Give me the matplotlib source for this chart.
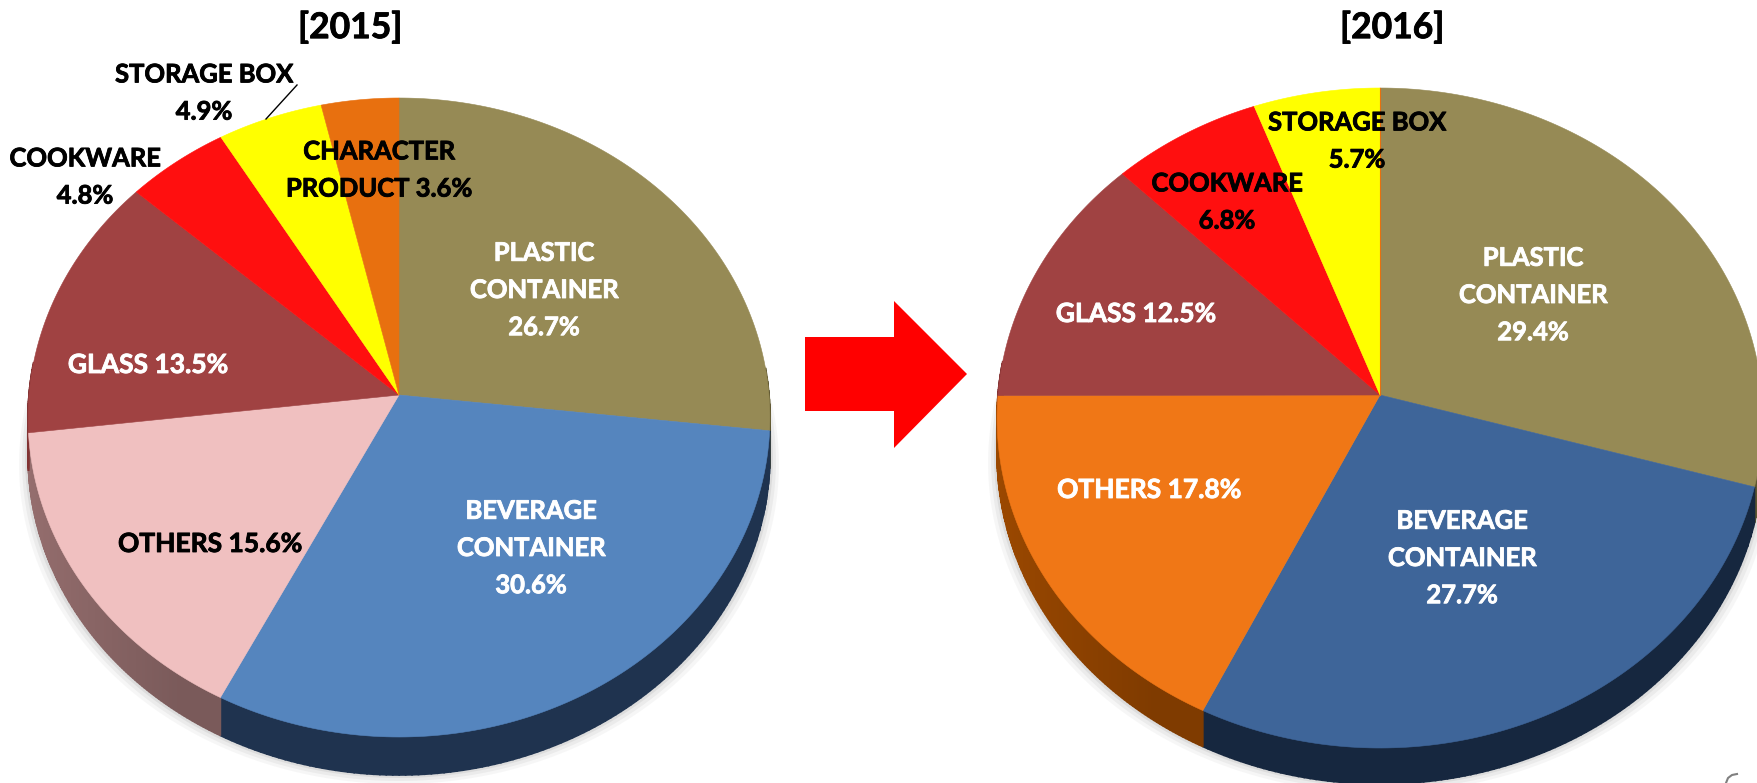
import numpy as np
import matplotlib
matplotlib.use('Agg')
import matplotlib.pyplot as plt
import matplotlib.patheffects as pe
from matplotlib.colors import to_rgb

plt.rcParams['font.family'] = ['Lato', 'DejaVu Sans']

years = ['[2015]', '[2016]']

names_2015 = ['PLASTIC CONTAINER', 'BEVERAGE CONTAINER', 'OTHERS', 'GLASS',
              'COOKWARE', 'STORAGE BOX', 'CHARACTER PRODUCT']
share_2015 = [26.7, 30.6, 15.6, 13.5, 4.8, 4.9, 3.6]
colors_2015 = ['#968A55', '#5585BE', '#F0C0C0', '#A04242', '#FF0F0F', '#FFFF00', '#E8700F']
sides_2015 = ['#5E5630', '#1F334F', '#7A5A5A', '#6A2A2A', '#A00000', '#A0A000', '#8A4000']

names_2016 = ['PLASTIC CONTAINER', 'BEVERAGE CONTAINER', 'OTHERS', 'GLASS',
              'COOKWARE', 'STORAGE BOX']
share_2016 = [29.4, 27.7, 17.8, 12.5, 6.8, 5.7]
colors_2016 = ['#968A55', '#3E6599', '#F07716', '#A04242', '#FF0F0F', '#FFFF00']
sides_2016 = ['#5E5630', '#16273F', '#7F3B00', '#6A2A2A', '#A00000', '#A0A000']


def rim(theta, cx, cy, rx, up, down):
    # theta runs clockwise from 12 o'clock, circle is put in perspective
    k = (down - up) / (down + up)
    a = up * (1 + k)
    c = np.cos(theta)
    w = 1 + k * c
    return cx + rx * np.sin(theta) / w, cy - a * c / w


def shade(col, f):
    return tuple(min(1, v * f) for v in to_rgb(col))


def draw_pie(ax, share, colors, sides, cx, cy, rx, up, down, depth):
    edges = np.cumsum([0] + share) / sum(share) * 2 * np.pi

    # soft shadow round the lower rim
    t = np.linspace(np.pi * 0.45, np.pi * 1.55, 200)
    x, y = rim(t, cx, cy, rx, up, down)
    for grow, alpha in [(9, .05), (6, .07), (3, .10)]:
        ax.fill(cx + (x - cx) * (1 + grow / rx), y + depth + grow,
                color='#606060', alpha=alpha, lw=0, zorder=1)

    for i in range(len(share)):
        t = np.linspace(edges[i], edges[i + 1], 120)
        x, y = rim(t, cx, cy, rx, up, down)
        for j in range(len(t) - 1):
            # only the front of the rim shows a side
            if np.cos(t[j]) > 0.1:
                continue
            f = 1 + 0.5 * max(0, -np.sin(t[j]) - 0.55)
            ax.fill([x[j], x[j + 1], x[j + 1], x[j]],
                    [y[j], y[j + 1], y[j + 1] + depth, y[j] + depth],
                    color=shade(sides[i], f), lw=1.2, zorder=2)

    for i in range(len(share)):
        t = np.linspace(edges[i], edges[i + 1], 120)
        x, y = rim(t, cx, cy, rx, up, down)
        ax.fill(np.r_[cx, x], np.r_[cy, y], color=colors[i], lw=0.4, zorder=3)


fig = plt.figure(figsize=(17.58, 7.83), dpi=100)
ax = fig.add_axes([0, 0, 1, 1])
ax.set_xlim(0, 1758)
ax.set_ylim(783, 0)
ax.axis('off')

draw_pie(ax, share_2015, colors_2015, sides_2015, 399, 395, 370, 297, 342, 38)
draw_pie(ax, share_2016, colors_2016, sides_2016, 1380, 395, 382, 307, 353, 36)
# thin orange sliver at the top of 2016
ax.plot([1380, 1380], [395, 88], color='#E8700F', lw=0.8, zorder=4)

# arrow
ax.fill([805, 894, 894, 967, 894, 894, 805], [337, 337, 301, 374, 448, 411, 411],
        color='#FF0000', lw=0, zorder=3)

# leader of the storage box label
ax.plot([297, 266], [85, 119], color='black', lw=1, zorder=5)
# bit of a page number cut off at the corner
ax.plot([1726, 1728, 1732, 1737], [783, 778, 775, 774], color='#808080', lw=1.5)

fs = 18.4
labels = [
    (350, 28, years[0], 'black', 25.5),
    (1392, 28, years[1], 'black', 25.5),
    (204, 93, 'STORAGE BOX\n4.9%', 'black', fs),
    (85, 177, 'COOKWARE\n4.8%', 'black', fs),
    (379, 170, 'CHARACTER\nPRODUCT 3.6%', 'black', fs),
    (544, 290, 'PLASTIC\nCONTAINER\n26.7%', 'white', fs),
    (148, 365, 'GLASS 13.5%', 'white', 19),
    (210, 544, 'OTHERS 15.6%', 'black', 19),
    (531, 548, 'BEVERAGE\nCONTAINER\n30.6%', 'white', fs),
    (1357, 141, 'STORAGE BOX\n5.7%', 'black', fs),
    (1227, 202, 'COOKWARE\n6.8%', 'black', fs),
    (1136, 314, 'GLASS 12.5%', 'white', 19),
    (1533, 295, 'PLASTIC\nCONTAINER\n29.4%', 'white', fs),
    (1149, 490, 'OTHERS 17.8%', 'white', 19),
    (1462, 558, 'BEVERAGE\nCONTAINER\n27.7%', 'white', fs),
]
for x, y, s, c, size in labels:
    t = ax.text(x, y, s, color=c, fontsize=size, fontweight='bold',
                ha='center', va='center', linespacing=1.66, zorder=6)
    t.set_path_effects([pe.withStroke(linewidth=0.6, foreground=c)])

fig.savefig('out.png', dpi=100)
